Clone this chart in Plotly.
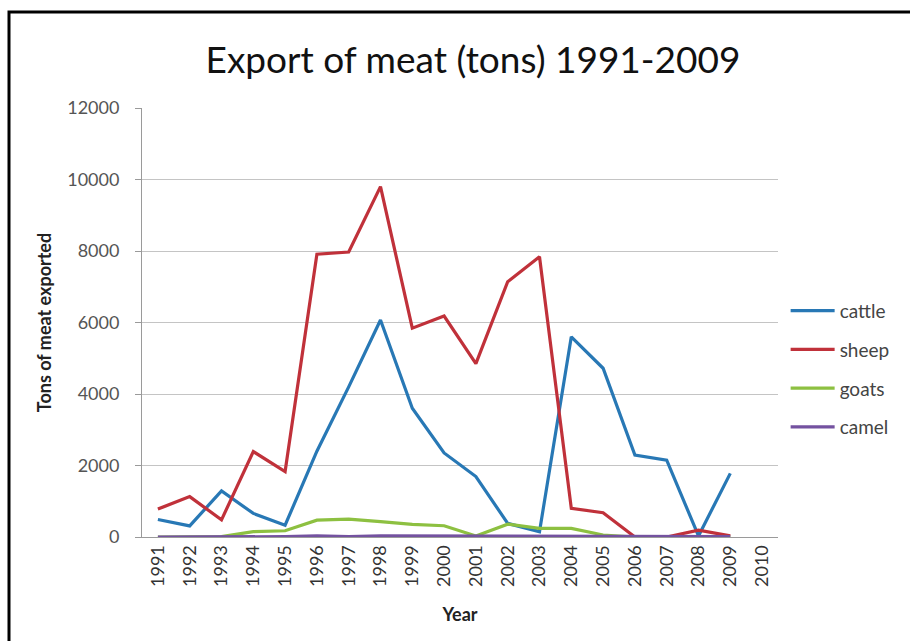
import plotly.graph_objects as go

years = [str(y) for y in range(1991, 2011)]
data_years = [str(y) for y in range(1991, 2010)]

cattle = [490, 310, 1290, 660, 330, 2400, 4200, 6070, 3600, 2350, 1690, 380, 150, 5600, 4720, 2290, 2150, 30, 1780]
sheep = [780, 1130, 480, 2390, 1830, 7910, 7970, 9800, 5840, 6180, 4850, 7140, 7840, 800, 680, 0, 0, 190, 30]
goats = [0, 0, 10, 150, 175, 470, 500, 430, 355, 315, 30, 360, 240, 240, 55, 0, 0, 0, 0]
camel = [0, 0, 0, 10, 10, 30, 10, 30, 30, 10, 10, 10, 20, 30, 10, 10, 10, 10, 10]

series = [
    ("cattle", cattle, "#2878B5"),
    ("sheep", sheep, "#C0313A"),
    ("goats", goats, "#8DC041"),
    ("camel", camel, "#7452A0"),
]

y_ticks = [0, 2000, 4000, 6000, 8000, 10000, 12000]

FONT = "Lato"

fig = go.Figure()
for name, vals, color in series:
    fig.add_trace(go.Scatter(
        x=data_years, y=vals, mode="lines", name=name,
        legendgroup=name,
        line=dict(color=color, width=3.2),
    ))

fig.update_layout(
    width=910, height=641,
    paper_bgcolor="white", plot_bgcolor="white",
    margin=dict(l=142, r=132, t=108, b=104, autoexpand=False),
    title=dict(text="Export of meat (tons) 1991-2009", x=(473 - 142) / 636, xref="paper",
               xanchor="center", y=0.906, yanchor="middle",
               font=dict(family=FONT, size=37, color="#111111")),
    font=dict(family=FONT, color="#444444"),
    showlegend=True,
    legend=dict(x=1.012, y=0.392, xanchor="left", yanchor="middle",
                traceorder="grouped", tracegroupgap=11,
                font=dict(family=FONT, size=19, color="#444444"),
                itemwidth=44, bgcolor="rgba(0,0,0,0)"),
    xaxis=dict(type="category", categoryorder="array", categoryarray=years,
               range=[-0.5, len(years) - 0.5],
               tickmode="array", tickvals=years, ticktext=years,
               tickangle=-90, tickfont=dict(size=18, color="#333333"),
               showgrid=False, showline=True, linecolor="#9A9A9A", linewidth=1,
               ticks="", zeroline=False,
               title=dict(text="<b>Year</b>", font=dict(size=18, color="#222222"), standoff=22)),
    yaxis=dict(range=[0, 12000], tickmode="array", tickvals=y_ticks,
               ticktext=[str(v) for v in y_ticks],
               tickfont=dict(size=18, color="#555555"),
               ticklabelstandoff=12,
               showgrid=True, gridcolor="#C4C4C4", gridwidth=1,
               showline=True, linecolor="#9A9A9A", linewidth=1,
               ticks="outside", ticklen=6, tickcolor="#9A9A9A",
               zeroline=False,
               title=dict(text="<b>Tons of meat exported</b>", font=dict(size=18, color="#222222"), standoff=10)),
    shapes=[dict(type="rect", xref="paper", yref="paper",
                 x0=(9 - 142) / 636, x1=(960 - 142) / 636,
                 y0=(537 - 700) / 429, y1=(537 - 12) / 429,
                 line=dict(color="black", width=3), fillcolor="rgba(0,0,0,0)", layer="above")],
)

fig.write_html("out.html", config={"displayModeBar": False},
               post_script="document.body.style.margin='0';document.body.style.overflow='hidden';")
